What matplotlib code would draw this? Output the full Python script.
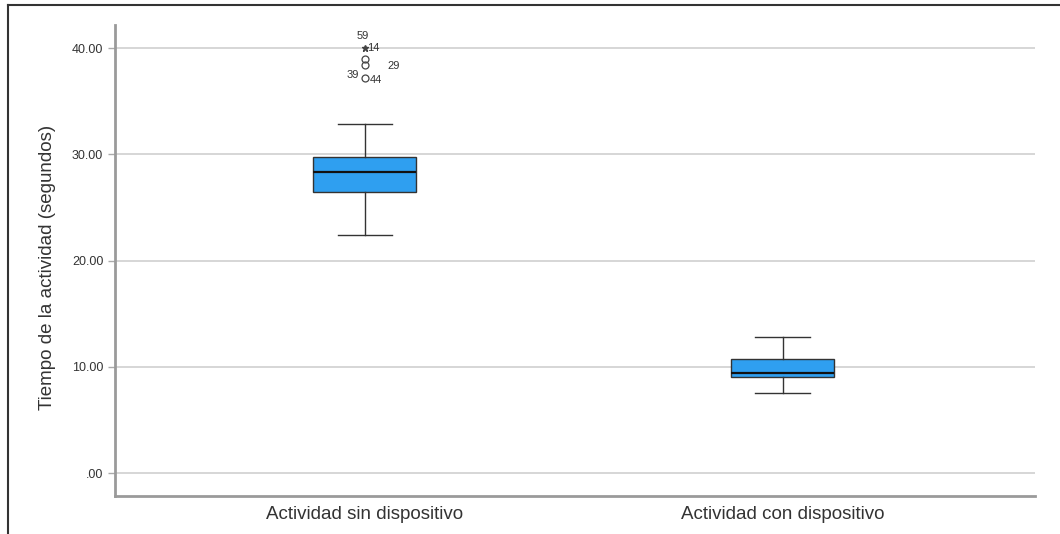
import matplotlib.pyplot as plt
from matplotlib.lines import Line2D

plt.rcParams['font.family'] = ['Liberation Sans', 'DejaVu Sans']

# box statistics
groups = ['Actividad sin dispositivo', 'Actividad con dispositivo']
q1 = [26.45, 9.04]
medians = [28.33, 9.41]
q3 = [29.74, 10.73]
whisk_lo = [22.4, 7.53]
whisk_hi = [32.85, 12.8]

# outliers of the first group
circ_vals = [38.95, 38.45, 37.2]
star_val = 40.0
yticks = [0, 10, 20, 30, 40]
ytick_labels = ['.00', '10.00', '20.00', '30.00', '40.00']

fig = plt.figure(figsize=(10.6, 5.34), dpi=100)
ax = fig.add_axes([0.1085, 0.0712, 0.8675, 0.8818])

stats = []
for i in range(len(groups)):
    stats.append({'med': medians[i], 'q1': q1[i], 'q3': q3[i],
                  'whislo': whisk_lo[i], 'whishi': whisk_hi[i], 'fliers': []})

ax.bxp(stats, positions=[1, 2], widths=0.246, patch_artist=True,
       boxprops=dict(facecolor='#2f9ff0', edgecolor='#333333', linewidth=1),
       medianprops=dict(color='#111111', linewidth=1.6),
       whiskerprops=dict(color='#333333', linewidth=1),
       capprops=dict(color='#333333', linewidth=1),
       capwidths=0.13, zorder=3)

# outliers
ax.plot([1, 1, 1], circ_vals, 'o', mfc='none', mec='#444444', ms=5, mew=0.9, zorder=4)
ax.plot([1], [star_val], marker='*', color='#444444', ms=5, zorder=4)
ax.text(0.995, 41.1, '59', fontsize=8, ha='center', va='center', color='#333333')
ax.text(1.005, 40.0, '14', fontsize=8, ha='left', va='center', color='#333333')
ax.text(1.055, 38.3, '29', fontsize=8, ha='left', va='center', color='#333333')
ax.text(0.985, 37.5, '39', fontsize=8, ha='right', va='center', color='#333333')
ax.text(1.012, 37.0, '44', fontsize=8, ha='left', va='center', color='#333333')

ax.set_xlim(0.402, 2.603)
ax.set_ylim(-2.16, 42.16)
ax.set_xticks([1, 2])
ax.set_xticklabels(groups, fontsize=13.5, color='#333333')
ax.set_yticks(yticks)
ax.set_yticklabels(ytick_labels, fontsize=9, color='#333333')
ax.tick_params(axis='x', length=0, pad=7)
ax.tick_params(axis='y', length=5, color='#aaaaaa', width=1)
ax.set_ylabel('Tiempo de la actividad (segundos)', fontsize=13.5, color='#333333')
ax.yaxis.set_label_coords(-0.064, 0.485)

ax.grid(axis='y', color='#d0d0d0', linewidth=1.2, zorder=0)
ax.set_axisbelow(True)
for s in ['top', 'right']:
    ax.spines[s].set_visible(False)
for s in ['left', 'bottom']:
    ax.spines[s].set_color('#9a9a9a')
    ax.spines[s].set_linewidth(2)

# outer frame (top and left edges)
fig.add_artist(Line2D([0.0075, 1.0], [0.991, 0.991], transform=fig.transFigure, color='#333333', lw=1.5))
fig.add_artist(Line2D([0.0075, 0.0075], [0.0, 0.991], transform=fig.transFigure, color='#333333', lw=1.5))

fig.savefig('out.png', dpi=100, facecolor='white')
